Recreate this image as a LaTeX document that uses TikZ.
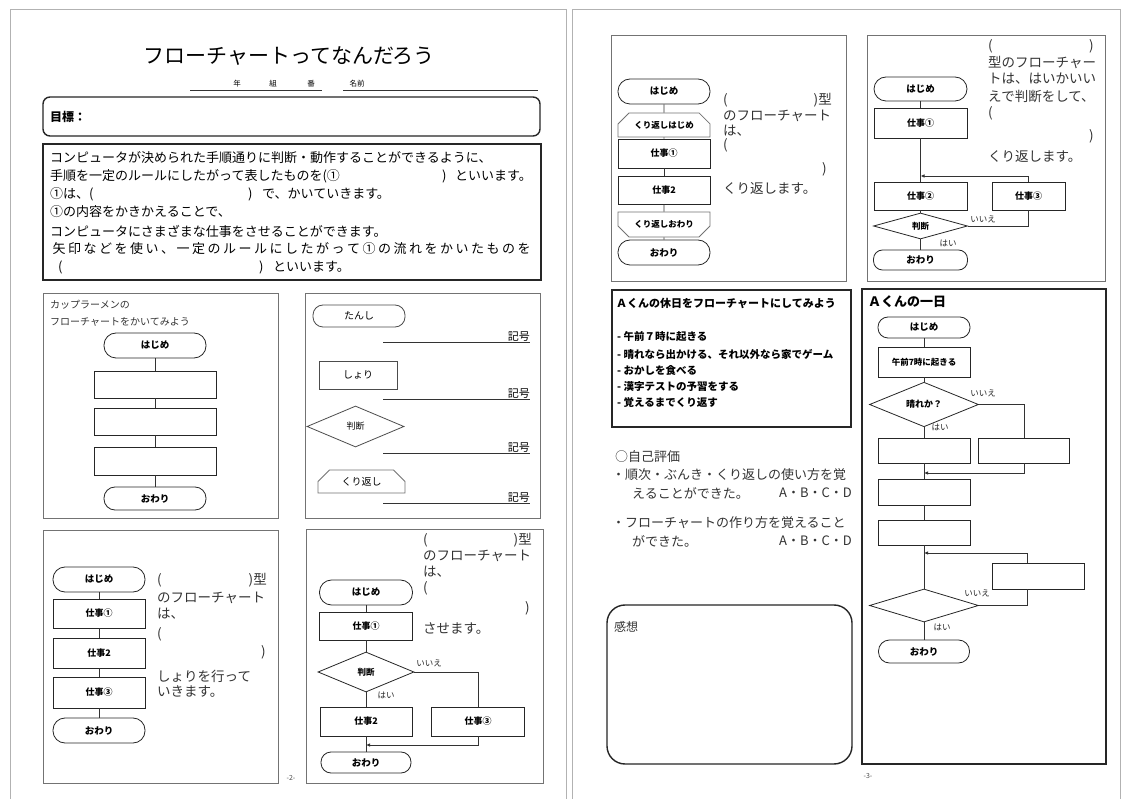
\documentclass[tikz,border=0pt]{standalone}
\usepackage{fontspec}
\setmainfont{Noto Sans CJK JP}
\usetikzlibrary{shapes.geometric,shapes.misc,arrows.meta}
\newcommand\fsz[1]{\fontsize{#1}{#1}\selectfont}
\def\sprd#1{\sprdA#1\relax}
\def\sprdA#1{#1\sprdB}
\def\sprdB#1{\ifx\relax#1\else\hfil#1\expandafter\sprdB\fi}
\tikzset{
  pg/.style={draw=black!30, line width=0.6pt},
  fr/.style={draw=black!55, line width=0.7pt},
  frthick/.style={draw=black!85, line width=1.6pt},
  fc/.style={draw=black!85, line width=0.8pt},
  ln/.style={draw=black!80, line width=0.8pt},
  arr/.style={ln, -{Latex[length=4pt,width=3.5pt]}},
  term/.style={fc, rectangle, rounded corners=#1, inner sep=0pt, font=\bfseries\fsz{9.5}},
  term/.default=10pt,
  proc/.style={fc, rectangle, inner sep=0pt, font=\bfseries\fsz{9}},
  deci/.style={fc, diamond, inner sep=0pt, font=\bfseries\fsz{8.5}},
  loopA/.style={draw=black!55, line width=0.8pt, chamfered rectangle, chamfered rectangle corners={north west,north east}, chamfered rectangle xsep=7pt, chamfered rectangle ysep=7pt, inner sep=0pt, font=\bfseries\fsz{8.5}},
  loopB/.style={loopA, chamfered rectangle corners={south west,south east}},
  tx/.style={anchor=west, inner sep=0pt, text=black!80, font=\fsz{13.5}},
  txe/.style={tx, anchor=east},
  lab/.style={inner sep=0pt, text=black!85, font=\fsz{8.5}},
  kig/.style={inner sep=0pt, anchor=south east, font=\fsz{11}},
}
\begin{document}
\begin{tikzpicture}[x=1pt,y=-1pt]
\useasboundingbox (0,0) rectangle (1128,799);
\fill[white] (0,0) rectangle (1128,799);
% page edges
\draw[pg] (10,799) -- (10,9.5) -- (566,9.5) -- (566,799);
\draw[pg] (572,799) -- (572,9.5) -- (1120,9.5) -- (1120,799);

% ===== title & name
\node[inner sep=0pt, font=\fsz{21}] (title) at (289,56) {フローチャートってなんだろう};
\node[inner sep=0pt, font=\fsz{7.5}] (nen) at (237,84) {年};
\node[inner sep=0pt, font=\fsz{7.5}] (kumi) at (273,84) {組};
\node[inner sep=0pt, font=\fsz{7.5}] (ban) at (311,84) {番};
\node[inner sep=0pt, font=\fsz{7.5}] (namae) at (357,84) {名前};
\coordinate (nl1) at (190,90); \coordinate (nl2) at (322,90);
\coordinate (nl3) at (343,90); \coordinate (nl4) at (538,90);
\draw[ln] (nl1) -- (nl2);
\draw[ln] (nl3) -- (nl4);

% ===== goal
\node[draw=black!85, line width=1.4pt, rounded corners=7pt, minimum width=497, minimum height=39] (goal) at (291.5,116.5) {};
\node[inner sep=0pt, anchor=west, font=\bfseries\fsz{12}] (goalt) at (50,117) {目標：};

% ===== text box
\node[frthick, minimum width=498, minimum height=136] (tbox) at (292,212) {};
\node[tx, text=black, font=\fsz{13}] (l1) at (50,158) {コンピュータが決められた手順通りに判断・動作することができるように、};
\node[tx, text=black, font=\fsz{13}] (l2a) at (50,176) {手順を一定のルールにしたがって表したものを(①};
\node[tx, text=black, font=\fsz{13}] (l2b) at (442,176) {)};
\node[tx, text=black, font=\fsz{13}] (l2c) at (455,176) {といいます。};
\node[tx, text=black, font=\fsz{13}] (l3a) at (50,194) {①は、(};
\node[tx, text=black, font=\fsz{13}] (l3b) at (248,194) {)};
\node[tx, text=black, font=\fsz{13}] (l3c) at (262,194) {で、かいていきます。};
\node[tx, text=black, font=\fsz{13}] (l4) at (50,212) {①の内容をかきかえることで、};
\node[tx, text=black, font=\fsz{13}] (l5) at (50,231) {コンピュータにさまざまな仕事をさせることができます。};
\node[tx, text=black, font=\fsz{13}] (l6) at (50,249) {\makebox[483pt]{\sprd{矢印などを使い、一定のルールにしたがって①の流れをかいたものを}}};
\node[tx, text=black, font=\fsz{13}] (l7a) at (58,267) {(};
\node[tx, text=black, font=\fsz{13}] (l7b) at (259,267) {)};
\node[tx, text=black, font=\fsz{13}] (l7c) at (273,267) {といいます。};

% ===== panel 1 : cup ramen
\draw[fr] (43,293) rectangle (278,518);
\node[tx, font=\fsz{10}] (p1a) at (50,305) {カップラーメンの};
\node[tx, font=\fsz{10}] (p1b) at (50,322) {フローチャートをかいてみよう};
\node[term=12pt, minimum width=102, minimum height=25] (p1s) at (155,345.5) {はじめ};
\node[proc, minimum width=122, minimum height=27] (p1r1) at (155,384.5) {};
\node[proc, minimum width=122, minimum height=27] (p1r2) at (155,421.5) {};
\node[proc, minimum width=122, minimum height=28] (p1r3) at (155,461) {};
\node[term=11pt, minimum width=102, minimum height=23] (p1e) at (155,498.5) {おわり};
\draw[ln] (p1s) -- (p1r1);
\draw[ln] (p1r1) -- (p1r2);
\draw[ln] (p1r2) -- (p1r3);
\draw[ln] (p1r3) -- (p1e);

% ===== panel 2 : symbols
\draw[fr] (305,293) rectangle (540,518);
\node[term=10pt, draw=black!70, font=\fsz{10}, minimum width=92, minimum height=22] (sy1) at (359,316) {たんし};
\node[proc, draw=black!70, font=\fsz{10}, minimum width=78, minimum height=28] (sy2) at (358,375) {しょり};
\node[deci, draw=black!70, font=\fsz{9}, minimum width=97, minimum height=41] (sy3) at (355.5,426.5) {判断};
\node[loopA, font=\fsz{10}, minimum width=87, minimum height=23] (sy4) at (361.5,481.5) {くり返し};
\node[kig] (k1) at (530,342) {記号};
\node[kig] (k2) at (530,399) {記号};
\node[kig] (k3) at (530,453) {記号};
\node[kig] (k4) at (530,503) {記号};
\coordinate (u1) at (383,342); \coordinate (u2) at (383,399);
\coordinate (u3) at (383,453); \coordinate (u4) at (383,503);
\draw[ln] (u1) -- (u1 -| k1.east);
\draw[ln] (u2) -- (u2 -| k2.east);
\draw[ln] (u3) -- (u3 -| k3.east);
\draw[ln] (u4) -- (u4 -| k4.east);

% ===== panel 3 : sequence
\draw[fr] (43,530) rectangle (278,783);
\node[term=12pt, minimum width=92, minimum height=25] (q1) at (99,579.5) {はじめ};
\node[proc, minimum width=92, minimum height=29] (q2) at (99,613.5) {仕事①};
\node[proc, minimum width=92, minimum height=30] (q3) at (99,653) {仕事2};
\node[proc, minimum width=92, minimum height=31] (q4) at (99,692.5) {仕事③};
\node[term=12pt, minimum width=92, minimum height=25] (q5) at (99,730.5) {おわり};
\draw[ln] (q1) -- (q2);
\draw[ln] (q2) -- (q3);
\draw[ln] (q3) -- (q4);
\draw[ln] (q4) -- (q5);
\node[tx] (t3a) at (157,580) {(};
\node[txe] (t3b) at (267,580) {)型};
\node[tx] (t3c) at (157,598) {のフローチャート};
\node[tx] (t3d) at (157,614) {は、};
\node[tx] (t3e) at (157,634) {(};
\node[txe] (t3f) at (266,652) {)};
\node[tx] (t3g) at (157,676) {しょりを行って};
\node[tx] (t3h) at (157,692) {いきます。};
\node[inner sep=0pt, font=\fsz{7}, text=black!70] (pg2) at (291,778) {-2-};

% ===== panel 4 : branch
\draw[fr] (306,529) rectangle (543,783);
\node[term=12pt, minimum width=93, minimum height=25] (b1) at (366,592.5) {はじめ};
\node[proc, minimum width=93, minimum height=28] (b2) at (366,626) {仕事①};
\node[deci, minimum width=96, minimum height=40] (b3) at (366,672) {判断};
\node[proc, minimum width=92, minimum height=29] (b4) at (366,721.5) {仕事2};
\node[proc, minimum width=93, minimum height=29] (b5) at (478,721.5) {仕事③};
\node[term=10pt, minimum width=90, minimum height=21] (b6) at (366,762.5) {おわり};
\coordinate (bj) at (366,745);
\draw[ln] (b1) -- (b2);
\draw[ln] (b2) -- (b3);
\draw[ln] (b3) -- (b4);
\draw[ln] (b3.east) -| (b5.north);
\draw[ln] (b4) -- (b6);
\draw[arr] (b5.south) |- (bj);
\node[lab] (b3n) at (429,663) {いいえ};
\node[lab] (b3y) at (386,695) {はい};
\node[tx] (t4a) at (423,540) {(};
\node[txe] (t4b) at (532,540) {)型};
\node[tx] (t4c) at (423,556) {のフローチャート};
\node[tx] (t4d) at (423,572) {は、};
\node[tx] (t4e) at (423,588) {(};
\node[txe] (t4f) at (530,608) {)};
\node[tx] (t4g) at (423,629) {させます。};

% ===== panel 5 : repetition
\draw[fr] (611,35) rectangle (846,281);
\node[term=12pt, minimum width=92, minimum height=25] (r1) at (664,91.5) {はじめ};
\node[loopA, minimum width=92, minimum height=24] (r2) at (664,125) {くり返しはじめ};
\node[proc, minimum width=92, minimum height=29] (r3) at (664,153.5) {仕事①};
\node[proc, minimum width=92, minimum height=28] (r4) at (664,190) {仕事2};
\node[loopB, minimum width=92, minimum height=25] (r5) at (664,224.5) {くり返しおわり};
\node[term=12pt, minimum width=92, minimum height=25] (r6) at (664,252.5) {おわり};
\draw[ln] (r1) -- (r2);
\draw[ln] (r2) -- (r3);
\draw[ln] (r3) -- (r4);
\draw[ln] (r4) -- (r5);
\draw[ln] (r5) -- (r6);
\node[tx] (t5a) at (723,100) {(};
\node[txe] (t5b) at (832,100) {)型};
\node[tx] (t5c) at (723,116) {のフローチャート};
\node[tx] (t5d) at (723,131) {は、};
\node[tx] (t5e) at (723,145) {(};
\node[txe] (t5f) at (827,169) {)};
\node[tx] (t5g) at (723,188) {くり返します。};

% ===== panel 6 : loop with decision
\draw[fr] (867,35) rectangle (1105,281);
\node[term=12pt, minimum width=93, minimum height=24] (w1) at (920.5,89) {はじめ};
\node[proc, minimum width=93, minimum height=30] (w2) at (920.5,123) {仕事①};
\node[proc, minimum width=93, minimum height=28] (w3) at (920.5,196) {仕事②};
\node[proc, minimum width=73, minimum height=28] (w4) at (1028.5,196) {仕事③};
\node[deci, minimum width=94, minimum height=26] (w5) at (920.5,226) {判断};
\node[term=9pt, minimum width=94, minimum height=20] (w6) at (920.5,260) {おわり};
\coordinate (wj) at (920.5,176);
\draw[ln] (w1) -- (w2);
\draw[ln] (w2) -- (w3);
\draw[ln] (w3) -- (w5);
\draw[ln] (w5) -- (w6);
\draw[ln] (w5.east) -| (w4.south);
\draw[arr] (w4.north) |- (wj);
\node[lab] (w5n) at (983,219) {いいえ};
\node[lab] (w5y) at (948,243) {はい};
\node[tx] (t6a) at (988,46) {(};
\node[txe] (t6b) at (1094,46) {)};
\node[tx] (t6c) at (988,62) {型のフローチャー};
\node[tx] (t6d) at (988,79) {トは、はいかいい};
\node[tx] (t6e) at (988,96) {えで判断をして、};
\node[tx] (t6f) at (988,113) {(};
\node[txe] (t6g) at (1094,136) {)};
\node[tx] (t6h) at (988,156) {くり返します。};

% ===== panel 7 : task list
\draw[frthick] (612,290) rectangle (851,427);
\node[tx, text=black, font=\bfseries\fsz{11}] (a0) at (616,303) {Ａくんの休日をフローチャートにしてみよう};
\node[tx, text=black, font=\bfseries\fsz{10.5}] (a1) at (617,337) {- 午前７時に起きる};
\node[tx, text=black, font=\bfseries\fsz{10.5}] (a2) at (617,354) {- 晴れなら出かける、それ以外なら家でゲーム};
\node[tx, text=black, font=\bfseries\fsz{10.5}] (a3) at (617,370) {- おかしを食べる};
\node[tx, text=black, font=\bfseries\fsz{10.5}] (a4) at (617,387) {- 漢字テストの予習をする};
\node[tx, text=black, font=\bfseries\fsz{10.5}] (a5) at (617,403) {- 覚えるまでくり返す};

% ===== self evaluation
\node[tx, font=\fsz{13}] (e0) at (615,457) {○自己評価};
\node[tx, font=\fsz{13}] (e1) at (612,475) {・順次・ぶんき・くり返しの使い方を覚};
\node[tx, font=\fsz{13}] (e2) at (632,493) {えることができた。};
\node[txe, font=\fsz{13}] (e3) at (852,493) {A・B・C・D};
\node[tx, font=\fsz{13}] (e4) at (612,523) {・フローチャートの作り方を覚えること};
\node[tx, font=\fsz{13}] (e5) at (632,541) {ができた。};
\node[txe, font=\fsz{13}] (e6) at (852,541) {A・B・C・D};

% ===== impressions
\node[draw=black!85, line width=1.4pt, rounded corners=18pt, minimum width=245, minimum height=159] (kan) at (729.5,684.5) {};
\node[tx, font=\fsz{12}] (kant) at (614,627) {感想};
\node[inner sep=0pt, font=\fsz{7}, text=black!70] (pg3) at (868,776) {-3-};

% ===== panel 8 : A-kun's day
\draw[frthick] (862,289) rectangle (1106,764);
\node[tx, text=black, font=\bfseries\fsz{13}] (d0) at (868,302) {Ａくんの一日};
\node[term=10pt, minimum width=92, minimum height=21] (d1) at (924,327.5) {はじめ};
\node[proc, font=\bfseries\fsz{8.5}, minimum width=92, minimum height=30] (d2) at (924,362) {午前7時に起きる};
\node[deci, font=\bfseries\fsz{9}, minimum width=109, minimum height=33] (d3) at (924,404.5) {晴れか？};
\node[proc, minimum width=92, minimum height=25] (d4) at (924,450.5) {};
\node[proc, minimum width=91, minimum height=25] (d5) at (1024,450.5) {};
\node[proc, minimum width=92, minimum height=26] (d6) at (924,492) {};
\node[proc, minimum width=92, minimum height=25] (d7) at (924,532.5) {};
\node[proc, minimum width=92, minimum height=26] (d8) at (1038,576) {};
\node[deci, minimum width=109, minimum height=33] (d9) at (924,605.5) {};
\node[term=11pt, minimum width=91, minimum height=23] (d10) at (924,651.5) {おわり};
\coordinate (dj1) at (924,473);
\coordinate (dj2) at (924,553);
\coordinate (dx) at (1027,0);
\draw[ln] (d1) -- (d2);
\draw[ln] (d2) -- (d3);
\draw[ln] (d3) -- (d4);
\draw[ln] (d3.east) -| (d5.north);
\draw[arr] (d5.south) |- (dj1);
\draw[ln] (d4) -- (d6);
\draw[ln] (d6) -- (d7);
\draw[ln] (d7) -- (d9);
\draw[ln] (d9.east) -| (dx |- d8.south);
\draw[arr] (dx |- d8.north) |- (dj2);
\draw[ln] (d9) -- (d10);
\node[lab] (d3n) at (983,393) {いいえ};
\node[lab] (d3y) at (940,427) {はい};
\node[lab] (d9n) at (977,593) {いいえ};
\node[lab] (d9y) at (942,627) {はい};
\end{tikzpicture}
\end{document}
